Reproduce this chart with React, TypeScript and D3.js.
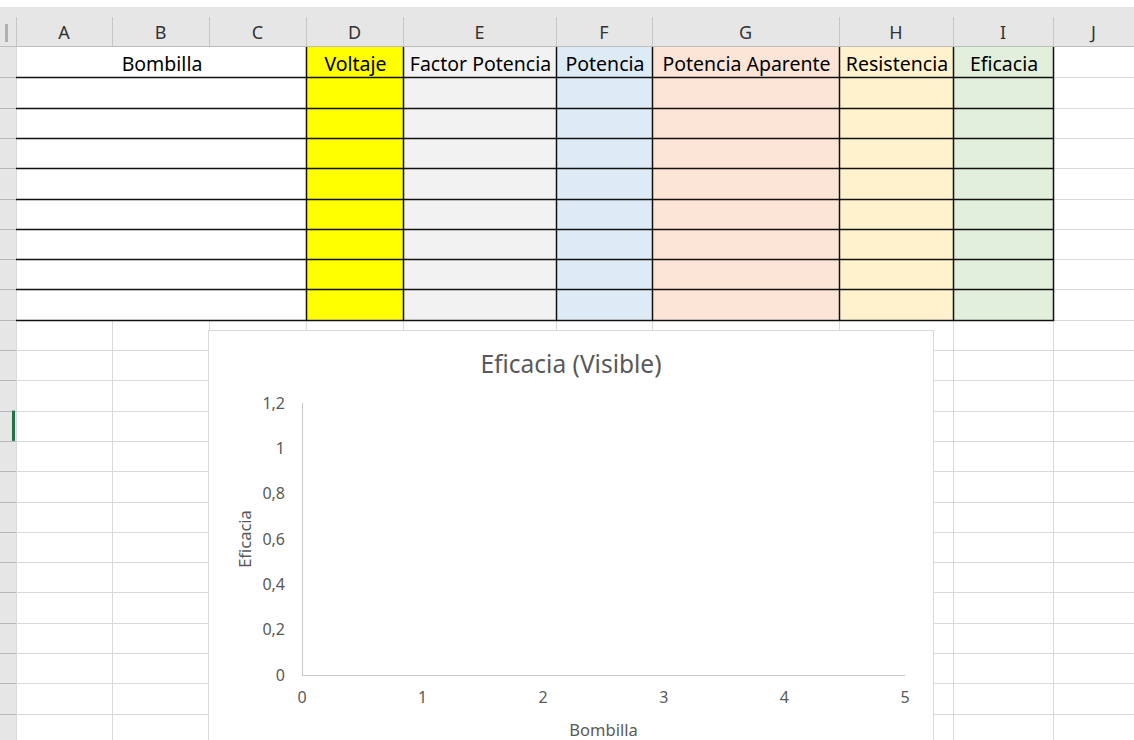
import React, { useEffect, useRef } from "react";
import * as d3 from "d3";

// ---- Data ----
const columnLetters = ["A", "B", "C", "D", "E", "F", "G", "H", "I", "J"];
const tableHeaders = ["Bombilla", "Voltaje", "Factor Potencia", "Potencia", "Potencia Aparente", "Resistencia", "Eficacia"];
const headerFills = ["#ffffff", "#ffff00", "#f2f2f2", "#ddebf7", "#fce4d6", "#fff2cc", "#e2efda"];
const dataRowCount = 8;
const chartTitle = "Eficacia (Visible)";
const xAxisTitle = "Bombilla";
const yAxisTitle = "Eficacia";
const xTicks = [0, 1, 2, 3, 4, 5];
const yTicks = [0, 0.2, 0.4, 0.6, 0.8, 1, 1.2];
const bombillaValues: number[] = [];
const eficaciaValues: number[] = [];

// ---- Layout ----
const W = 1134;
const H = 740;
const colEdges = [16, 112, 209, 306, 403, 556, 652, 839, 953, 1053, 1134];
const headerTop = 7;
const headerBottom = 47;
const rowH = 30.3;
const tableCols = [[0, 3], [3, 4], [4, 5], [5, 6], [6, 7], [7, 8], [8, 9]];
const chartBox = { x: 208, y: 330, w: 725, h: 420 };
const uiFont = "'Noto Sans', 'Open Sans', sans-serif";

export default function App() {
  const ref = useRef<SVGSVGElement>(null);

  useEffect(() => {
    const svg = d3.select(ref.current);
    svg.selectAll("*").remove();

    svg.append("rect").attr("width", W).attr("height", H).attr("fill", "#ffffff");

    // column header band
    svg.append("rect").attr("x", 0).attr("y", headerTop).attr("width", W).attr("height", headerBottom - headerTop).attr("fill", "#e6e6e6");
    // row header band
    svg.append("rect").attr("x", 0).attr("y", headerBottom).attr("width", 16).attr("height", H - headerBottom).attr("fill", "#e6e6e6");
    svg.append("rect").attr("x", 5).attr("y", 24).attr("width", 3).attr("height", 18).attr("fill", "#b0b0b0");

    columnLetters.forEach((L, i) => {
      const x0 = colEdges[i], x1 = colEdges[i + 1];
      svg.append("text").attr("x", (x0 + x1) / 2).attr("y", 39).attr("text-anchor", "middle")
        .attr("font-family", uiFont).attr("font-size", 18).attr("fill", "#333").text(L);
      svg.append("line").attr("x1", x0 + 0.5).attr("x2", x0 + 0.5).attr("y1", headerTop + 10).attr("y2", headerBottom)
        .attr("stroke", "#c6c6c6");
    });
    svg.append("line").attr("x1", 0).attr("x2", W).attr("y1", headerBottom - 0.5).attr("y2", headerBottom - 0.5).attr("stroke", "#bdbdbd");

    const nRows = Math.ceil((H - headerBottom) / rowH);
    const rowY = (i: number) => headerBottom + i * rowH;

    const grid = svg.append("g").attr("stroke", "#d9d9d9").attr("stroke-width", 1);
    for (let i = 1; i <= nRows; i++) {
      grid.append("line").attr("x1", 0).attr("x2", W).attr("y1", Math.round(rowY(i)) + 0.5).attr("y2", Math.round(rowY(i)) + 0.5);
    }
    colEdges.forEach((x) => {
      grid.append("line").attr("x1", x + 0.5).attr("x2", x + 0.5).attr("y1", headerBottom).attr("y2", H);
    });
    for (let i = 1; i <= nRows; i++) {
      svg.append("line").attr("x1", 0).attr("x2", 16).attr("y1", Math.round(rowY(i)) + 0.5).attr("y2", Math.round(rowY(i)) + 0.5).attr("stroke", "#b8b8b8");
    }
    svg.append("rect").attr("x", 12).attr("y", rowY(12)).attr("width", 3).attr("height", rowH).attr("fill", "#217346");

    // table fills + headers
    const totalRows = 1 + dataRowCount;
    tableHeaders.forEach((h, c) => {
      const [a, b] = tableCols[c];
      const x0 = colEdges[a], x1 = colEdges[b];
      svg.append("rect").attr("x", x0 + 1).attr("y", headerBottom).attr("width", x1 - x0 - 1)
        .attr("height", rowY(totalRows) - headerBottom).attr("fill", headerFills[c]);
      svg.append("text").attr("x", (x0 + x1) / 2 + 1).attr("y", headerBottom + 24).attr("text-anchor", "middle")
        .attr("font-family", uiFont).attr("font-size", 19.5).attr("fill", "#000").text(h);
    });
    const tb = svg.append("g").attr("stroke", "#111").attr("stroke-width", 1.5);
    for (let i = 1; i <= totalRows; i++) {
      const y = Math.round(rowY(i)) + 0.5;
      tb.append("line").attr("x1", colEdges[0]).attr("x2", colEdges[9] + 1).attr("y1", y).attr("y2", y);
    }
    tableCols.forEach(([a], c) => {
      if (c === 0) return;
      const x = colEdges[a] + 0.5;
      tb.append("line").attr("x1", x).attr("x2", x).attr("y1", headerBottom).attr("y2", Math.round(rowY(totalRows)) + 1);
    });
    tb.append("line").attr("x1", colEdges[9] + 0.5).attr("x2", colEdges[9] + 0.5).attr("y1", headerBottom).attr("y2", Math.round(rowY(totalRows)) + 1);

    // ---- chart ----
    const ch = svg.append("g");
    ch.append("rect").attr("x", chartBox.x + 0.5).attr("y", chartBox.y + 0.5).attr("width", chartBox.w).attr("height", chartBox.h)
      .attr("fill", "#fff").attr("stroke", "#d9d9d9");

    const x = d3.scaleLinear().domain([0, 5]).range([302, 905]);
    const y = d3.scaleLinear().domain([0, 1.2]).range([675, 403]);
    const fmt = (v: number) => d3.format("~g")(+v.toFixed(2)).replace(".", ",");

    ch.append("text").attr("x", 571).attr("y", 373).attr("text-anchor", "middle")
      .attr("font-family", uiFont).attr("font-size", 24.5).attr("fill", "#595959").text(chartTitle);

    ch.append("line").attr("x1", x(0) + 0.5).attr("x2", x(0) + 0.5).attr("y1", y(1.2)).attr("y2", y(0)).attr("stroke", "#c8c8c8");
    ch.append("line").attr("x1", x(0)).attr("x2", x(5)).attr("y1", y(0) + 0.5).attr("y2", y(0) + 0.5).attr("stroke", "#c8c8c8");

    yTicks.forEach((t) => {
      ch.append("text").attr("x", 285).attr("y", y(t) + 5.5).attr("text-anchor", "end")
        .attr("font-family", uiFont).attr("font-size", 16).attr("fill", "#595959").text(fmt(t));
    });
    xTicks.forEach((t) => {
      ch.append("text").attr("x", x(t)).attr("y", y(0) + 28).attr("text-anchor", "middle")
        .attr("font-family", uiFont).attr("font-size", 16).attr("fill", "#595959").text(fmt(t));
    });
    ch.append("text").attr("x", (x(0) + x(5)) / 2).attr("y", 736).attr("text-anchor", "middle")
      .attr("font-family", uiFont).attr("font-size", 16.5).attr("fill", "#595959").text(xAxisTitle);
    ch.append("text").attr("transform", `translate(251,${(y(0) + y(1.2)) / 2}) rotate(-90)`).attr("text-anchor", "middle")
      .attr("font-family", uiFont).attr("font-size", 16.5).attr("fill", "#595959").text(yAxisTitle);

    // series (empty in the reference)
    const pts = bombillaValues.map((b, i) => [b, eficaciaValues[i]] as [number, number]);
    ch.selectAll("circle.pt").data(pts).enter().append("circle").attr("class", "pt")
      .attr("cx", (d) => x(d[0])).attr("cy", (d) => y(d[1])).attr("r", 3).attr("fill", "#4472c4");
  }, []);

  return (
    <svg ref={ref} width={W} height={H} style={{ position: "absolute", left: 0, top: 0, display: "block" }} />
  );
}
